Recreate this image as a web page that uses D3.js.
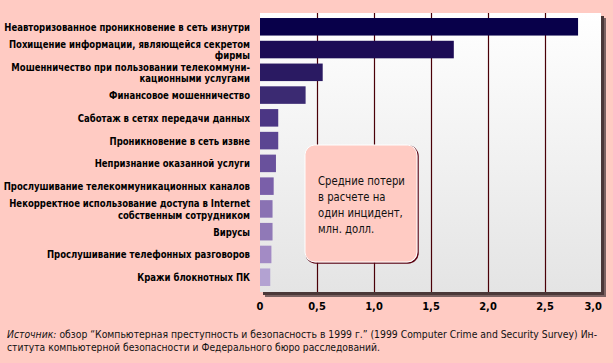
<!DOCTYPE html>
<html>
<head>
<meta charset="utf-8">
<script src="https://cdn.jsdelivr.net/npm/d3@7"></script>
<style>
  body { margin: 0; background: #ffcbc3; }
  svg { display: block; }
</style>
</head>
<body>
<div id="chart"></div>
<script>
// categories (top to bottom), lines split for two-line labels
var categories = [
  ["Неавторизованное проникновение в сеть изнутри"],
  ["Похищение информации, являющейся секретом", "фирмы"],
  ["Мошенничество при пользовании телекоммуни-", "кационными услугами"],
  ["Финансовое мошенничество"],
  ["Саботаж в сетях передачи данных"],
  ["Проникновение в сеть извне"],
  ["Непризнание оказанной услуги"],
  ["Прослушивание телекоммуникационных каналов"],
  ["Некорректное использование доступа в Internet", "собственным сотрудником"],
  ["Вирусы"],
  ["Прослушивание телефонных разговоров"],
  ["Кражи блокнотных ПК"]
];
// average loss per incident, mln USD
var losses = [2.79, 1.70, 0.55, 0.40, 0.16, 0.16, 0.14, 0.12, 0.11, 0.11, 0.10, 0.09];
var ticks = [0, 0.5, 1.0, 1.5, 2.0, 2.5, 3.0];
var tickLabels = ["0", "0,5", "1,0", "1,5", "2,0", "2,5", "3,0"];
var barColors = ["#08004a", "#1c0b55", "#2a1a62", "#3b2a72", "#4b3684", "#5b4592",
                 "#69519c", "#7a5fa9", "#8a72b3", "#9079b7", "#a38bc5", "#b3a2d2"];
var boxText = ["Средние потери", "в расчете на", "один инцидент,", "млн. долл."];
var source = [
  "обзор \u201cКомпьютерная преступность и безопасность в 1999 г.\u201d (1999 Computer Crime and Security Survey) Ин-",
  "ститута компьютерной безопасности и Федерального бюро расследований."
];

var width = 613, height = 363;
var narrow = "'DejaVu Sans Condensed', 'DejaVu Sans', sans-serif";

var svg = d3.select("#chart").append("svg")
  .attr("width", width)
  .attr("height", height);

var defs = svg.append("defs");
var grad = defs.append("linearGradient").attr("id", "panelGrad")
  .attr("x1", 0).attr("y1", 0).attr("x2", 0).attr("y2", 1);
grad.append("stop").attr("offset", "0%").attr("stop-color", "#ffffff");
grad.append("stop").attr("offset", "100%").attr("stop-color", "#e4e4e4");

svg.append("rect").attr("width", width).attr("height", height).attr("fill", "#ffcbc3");

var x = d3.scaleLinear().domain([0, 3]).range([260, 602]);
var y = d3.scaleBand().domain(d3.range(categories.length))
  .range([15.4, 288.6]).paddingInner(0.23).paddingOuter(0.115);

// panel with shadow
var panel = { x0: 260, y0: 13, x1: 601, y1: 292 };
svg.append("rect")
  .attr("x", panel.x0 + 5).attr("y", panel.y0 + 5)
  .attr("width", panel.x1 - panel.x0).attr("height", panel.y1 - panel.y0)
  .attr("fill", "#7a6262");
svg.append("rect")
  .attr("x", panel.x0 + 3).attr("y", panel.y0 + 3)
  .attr("width", panel.x1 - panel.x0).attr("height", panel.y1 - panel.y0)
  .attr("fill", "#4a3838");
svg.append("rect")
  .attr("x", panel.x0).attr("y", panel.y0)
  .attr("width", panel.x1 - panel.x0).attr("height", panel.y1 - panel.y0)
  .attr("fill", "url(#panelGrad)");

// gridlines
svg.append("g").selectAll("line")
  .data(ticks.slice(1, -1)).enter()
  .append("line")
  .attr("x1", function(d) { return Math.round(x(d)) + 0.5; })
  .attr("x2", function(d) { return Math.round(x(d)) + 0.5; })
  .attr("y1", panel.y0).attr("y2", panel.y1)
  .attr("stroke", "#4a0008")
  .attr("stroke-width", 1.2);

// bars
svg.append("g").selectAll("rect")
  .data(losses).enter()
  .append("rect")
  .attr("x", x(0))
  .attr("y", function(d, i) { return y(i); })
  .attr("width", function(d) { return x(d) - x(0); })
  .attr("height", y.bandwidth())
  .attr("fill", function(d, i) { return barColors[i]; });

// category labels, squeezed horizontally so the longest one spans x 3..250
var labels = svg.append("g")
  .attr("font-family", narrow)
  .attr("font-weight", "bold")
  .attr("font-size", 11)
  .attr("fill", "#000")
  .attr("text-anchor", "end");
categories.forEach(function(lines, i) {
  var cy = y(i) + y.bandwidth() / 2;
  var t = labels.append("text").attr("x", 0);
  lines.forEach(function(line, k) {
    t.append("tspan")
      .attr("x", 0)
      .attr("y", cy + 4 + (k - (lines.length - 1) / 2) * 11.5)
      .text(line);
  });
});
var firstW = labels.select("text tspan").node().getComputedTextLength();
labels.attr("transform", "translate(250,0) scale(" + (246 / firstW) + ",1)");

// x axis labels
svg.append("g").selectAll("text")
  .data(ticks).enter()
  .append("text")
  .attr("x", function(d) { return x(d); })
  .attr("y", 310)
  .attr("text-anchor", function(d, i) { return i === ticks.length - 1 ? "end" : "middle"; })
  .attr("font-family", narrow)
  .attr("font-weight", "bold")
  .attr("font-size", 11)
  .text(function(d, i) { return tickLabels[i]; });

// annotation box
var box = { x: 305, y: 145, w: 112, h: 117 };
svg.append("rect")
  .attr("x", box.x + 1).attr("y", box.y + 1)
  .attr("width", box.w).attr("height", box.h)
  .attr("rx", 10)
  .attr("fill", "none")
  .attr("stroke", "#5a0010").attr("stroke-width", 1.5);
svg.append("rect")
  .attr("x", box.x).attr("y", box.y)
  .attr("width", box.w).attr("height", box.h)
  .attr("rx", 10)
  .attr("fill", "#ffcbc3")
  .attr("stroke", "#ffffff").attr("stroke-width", 1);
var bt = svg.append("text")
  .attr("font-family", narrow)
  .attr("font-size", 13)
  .attr("fill", "#111");
bt.selectAll("tspan")
  .data(boxText).enter()
  .append("tspan")
  .attr("x", 0)
  .attr("y", function(d, i) { return 185 + i * 16; })
  .text(function(d) { return d; });
var boxW = bt.select("tspan").node().getComputedTextLength();
bt.attr("transform", "translate(318,0) scale(" + (87 / boxW) + ",1)");

// source note
var note = svg.append("g")
  .attr("font-family", narrow)
  .attr("font-size", 11)
  .attr("fill", "#111");
var l1 = note.append("text").attr("x", 7).attr("y", 338)
  .attr("textLength", 590).attr("lengthAdjust", "spacingAndGlyphs");
l1.append("tspan").attr("font-style", "italic").text("Источник: ");
l1.append("tspan").text(source[0]);
note.append("text").attr("x", 7).attr("y", 351)
  .attr("textLength", 373).attr("lengthAdjust", "spacingAndGlyphs")
  .text(source[1]);
</script>
</body>
</html>
